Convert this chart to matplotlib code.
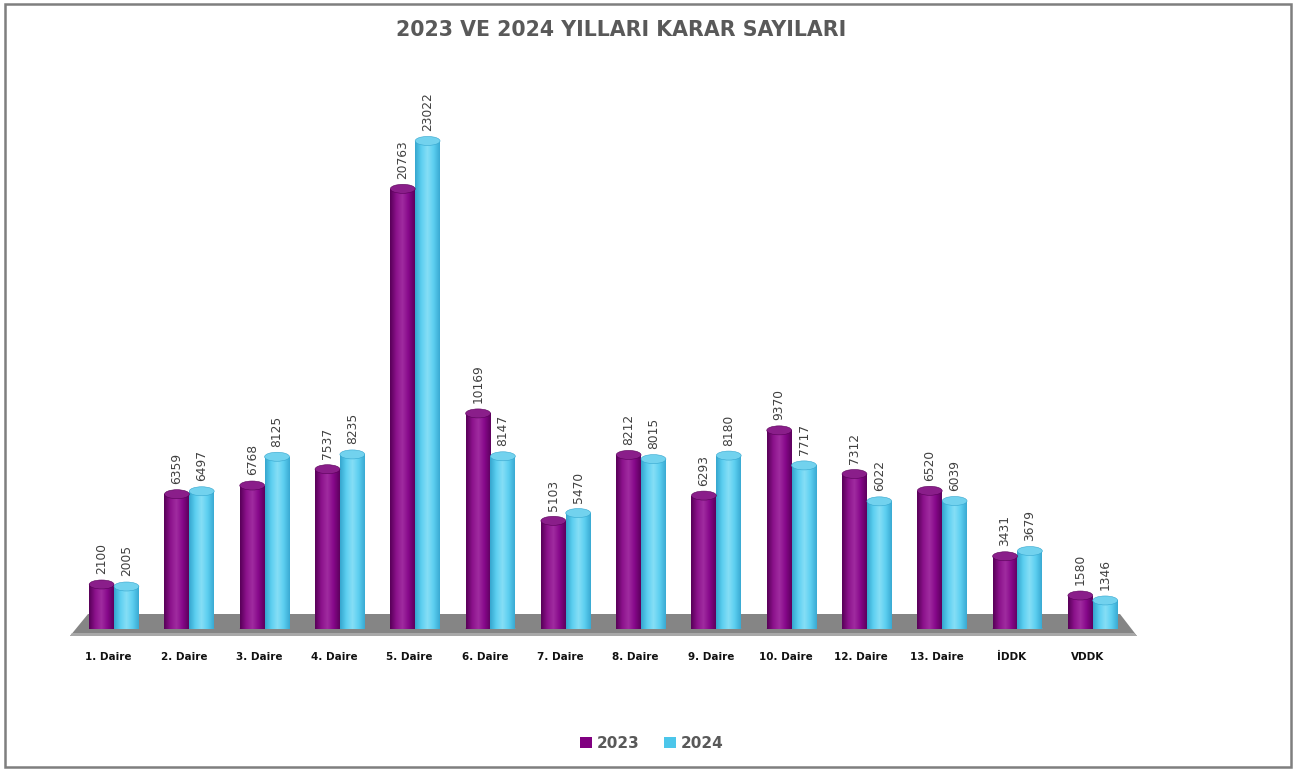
import numpy as np
import matplotlib
matplotlib.use("Agg")
import matplotlib.pyplot as plt
from matplotlib.patches import Ellipse, Polygon, Rectangle, Patch
from matplotlib.colors import LinearSegmentedColormap

# ---------------- data ----------------
categories = ["1. Daire", "2. Daire", "3. Daire", "4. Daire", "5. Daire", "6. Daire",
              "7. Daire", "8. Daire", "9. Daire", "10. Daire", "12. Daire", "13. Daire",
              "İDDK", "VDDK"]
values_2023 = [2100, 6359, 6768, 7537, 20763, 10169, 5103, 8212, 6293, 9370, 7312, 6520, 3431, 1580]
values_2024 = [2005, 6497, 8125, 8235, 23022, 8147, 5470, 8015, 8180, 7717, 6022, 6039, 3679, 1346]
series_names = ["2023", "2024"]
title = "2023 VE 2024 YILLARI KARAR SAYILARI"

# ---------------- style ----------------
W, H = 1304, 772
fig = plt.figure(figsize=(W / 100, H / 100), dpi=100)
fig.patch.set_facecolor("white")

ax_left, ax_right = 76.4, 76.4 + 1054
ax_base, ax_top = 629, 99
ax = fig.add_axes([ax_left / W, 1 - ax_base / H, (ax_right - ax_left) / W, (ax_base - ax_top) / H])
ymax = 25000
ax.set_xlim(-0.5, len(categories) - 0.5)
ax.set_ylim(0, ymax)
ax.axis("off")

px_per_unit = (ax_base - ax_top) / ymax
cap_h = 9 / px_per_unit  # cap ellipse height in data units
bw = 0.33

colors = {
    "2023": dict(base="#800080", cmap=["#580058", "#8c128c", "#a02ca0", "#86088a", "#5e005e"], cap="#8a1e8a"),
    "2024": dict(base="#4cc6ea", cmap=["#35a6cf", "#5ccff0", "#86def6", "#5ccff0", "#3aaad3"], cap="#72d2ee"),
}

# floor (trapezoid) in figure pixel coordinates
floor_px = [(70, 636), (1137, 636), (1120, 614), (88, 614)]
floor = Polygon([(x / W, 1 - y / H) for x, y in floor_px], closed=True,
                transform=fig.transFigure, facecolor="#858585", edgecolor="none", zorder=0.5)
ax.add_patch(floor)
floor.set_clip_on(False)
front_px = [(70, 636), (1137, 636), (1134, 633), (72, 633)]
fe = Polygon([(x / W, 1 - y / H) for x, y in front_px], closed=True,
             transform=fig.transFigure, facecolor="#a8a8a8", edgecolor="none", zorder=0.6)
ax.add_patch(fe)
fe.set_clip_on(False)

x = np.arange(len(categories))
grad = np.linspace(0, 1, 64).reshape(1, -1)

for si, (name, vals) in enumerate(zip(series_names, [values_2023, values_2024])):
    c = colors[name]
    cmap = LinearSegmentedColormap.from_list(name, c["cmap"])
    xs = x + (si - 0.5) * bw
    bars = ax.bar(xs, vals, width=bw, color=c["base"], edgecolor="none", zorder=2)
    for b, v in zip(bars, vals):
        x0 = b.get_x()
        bot = Ellipse((x0 + bw / 2, 0), bw, cap_h, facecolor=c["cmap"][1], edgecolor="none", zorder=1.9)
        ax.add_patch(bot)
        im = ax.imshow(grad, cmap=cmap, extent=[x0, x0 + bw, -cap_h / 2, v], aspect="auto",
                       zorder=2.1, interpolation="bilinear")
        im.set_clip_path(Rectangle((x0, 0), bw, v, transform=ax.transData))
        imb = ax.imshow(grad, cmap=cmap, extent=[x0, x0 + bw, -cap_h / 2, cap_h / 2], aspect="auto",
                        zorder=2.05, interpolation="bilinear")
        imb.set_clip_path(bot)
        top = Ellipse((x0 + bw / 2, v), bw, cap_h, facecolor=c["cap"], edgecolor=c["cmap"][0],
                      linewidth=0.4, zorder=2.3)
        ax.add_patch(top)
        ax.annotate(f"{v}", xy=(x0 + bw / 2, v + cap_h / 2), xytext=(0, 4), textcoords="offset points",
                    rotation=90, ha="center", va="bottom", fontsize=8.8, color="#404040", zorder=3)

ax.set_ylim(0, ymax)
ax.set_xlim(-0.5, len(categories) - 0.5)

# category labels (slightly left of the bar groups, as in the 3D perspective)
for i, cat in enumerate(categories):
    ax.annotate(cat, xy=(i, 0), xytext=(-4, -20), textcoords="offset points", ha="center", va="center",
                fontsize=7.5, fontweight="bold", color="#111111", annotation_clip=False)

# title
fig.text(621 / W, 1 - 30 / H, title, ha="center", va="center", fontsize=14.8, fontweight="bold",
         color="#595959")

# legend
handles = [Patch(facecolor=colors[n]["base"], edgecolor="none") for n in series_names]
leg = fig.legend(handles, series_names, loc="center", bbox_to_anchor=(652 / W, 1 - 743 / H), ncol=2,
                 frameon=False, handlelength=0.75, handleheight=0.75, handletextpad=0.35, columnspacing=1.6,
                 prop=dict(size=11, weight="bold"))
for t in leg.get_texts():
    t.set_color("#595959")

# outer border
fig.patches.append(Rectangle((5 / W, 1 - 767 / H), 1286 / W, 763 / H, transform=fig.transFigure,
                             facecolor="none", edgecolor="#7f7f7f", linewidth=1.8))

fig.savefig("out.png", dpi=100, facecolor="white")
